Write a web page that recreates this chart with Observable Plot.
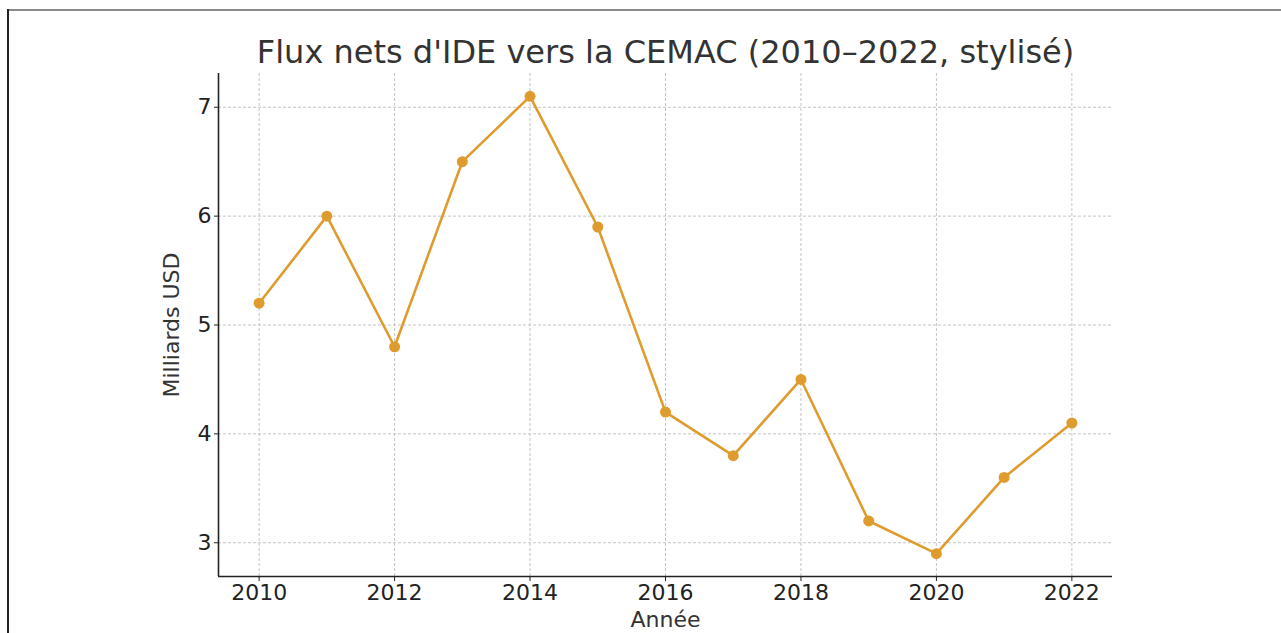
<!DOCTYPE html>
<html>
<head>
<meta charset="utf-8">
<script src="https://cdn.jsdelivr.net/npm/d3@7"></script>
<script src="https://cdn.jsdelivr.net/npm/@observablehq/plot@0.6"></script>
<style>
  html, body { margin: 0; padding: 0; background: #fff; }
  #wrap { position: relative; width: 1281px; height: 633px; overflow: hidden; }
  #wrap svg { position: absolute; left: 0; top: 0; }
  #border-top { position: absolute; left: 7px; top: 9px; width: 1274px; height: 2px; background: #8a8a8a; }
  #border-left { position: absolute; left: 7px; top: 9px; width: 2px; height: 624px; background: #222; }
</style>
</head>
<body>
<div id="wrap"><div id="border-top"></div><div id="border-left"></div></div>
<script>
const years = [2010, 2011, 2012, 2013, 2014, 2015, 2016, 2017, 2018, 2019, 2020, 2021, 2022];
const values = [5.2, 6.0, 4.8, 6.5, 7.1, 5.9, 4.2, 3.8, 4.5, 3.2, 2.9, 3.6, 4.1];
const xTicks = [2010, 2012, 2014, 2016, 2018, 2020, 2022];
const yTicks = [3, 4, 5, 6, 7];
const title = "Flux nets d'IDE vers la CEMAC (2010–2022, stylisé)";
const xLabel = "Année";
const yLabel = "Milliards USD";

const data = years.map((y, i) => ({year: y, value: values[i]}));
const color = "#DF9C2E";

const chart = Plot.plot({
  width: 1281,
  height: 633,
  marginLeft: 218,
  marginRight: 169,
  marginTop: 73,
  marginBottom: 57,
  style: {fontFamily: "'DejaVu Sans', sans-serif", background: "transparent", color: "#222"},
  x: {domain: [2009.4, 2022.6], ticks: xTicks, tickFormat: d => String(d), label: null},
  y: {domain: [2.69, 7.31], ticks: yTicks, tickFormat: d => String(d), label: null},
  marks: [
    Plot.gridX(xTicks, {stroke: "#c4c4c4", strokeOpacity: 1, strokeDasharray: "3,2", strokeWidth: 1}),
    Plot.gridY(yTicks, {stroke: "#c4c4c4", strokeOpacity: 1, strokeDasharray: "3,2", strokeWidth: 1}),
    Plot.axisX(xTicks, {tickSize: 5, tickPadding: 3, fontSize: 22, tickFormat: d => String(d), label: null, stroke: "#222", fill: "#222"}),
    Plot.axisY(yTicks, {tickSize: 4, tickPadding: 3, fontSize: 22, tickFormat: d => String(d), label: null, stroke: "#222", fill: "#222"}),
    Plot.ruleX([2009.4], {stroke: "#222", strokeWidth: 1.6}),
    Plot.ruleY([2.69], {stroke: "#222", strokeWidth: 1.6}),
    Plot.line(data, {x: "year", y: "value", stroke: color, strokeWidth: 2.6}),
    Plot.dot(data, {x: "year", y: "value", fill: color, r: 5.5}),
    Plot.text([title], {frameAnchor: "top", dy: -33, fontSize: 32, fill: "#333", text: d => d}),
    Plot.text([xLabel], {frameAnchor: "bottom", dy: 50, fontSize: 22, fill: "#333", text: d => d}),
    Plot.text([yLabel], {frameAnchor: "left", dx: -47, rotate: -90, textAnchor: "middle", fontSize: 22, fill: "#333", text: d => d})
  ]
});
document.getElementById("wrap").prepend(chart);
</script>
</body>
</html>
